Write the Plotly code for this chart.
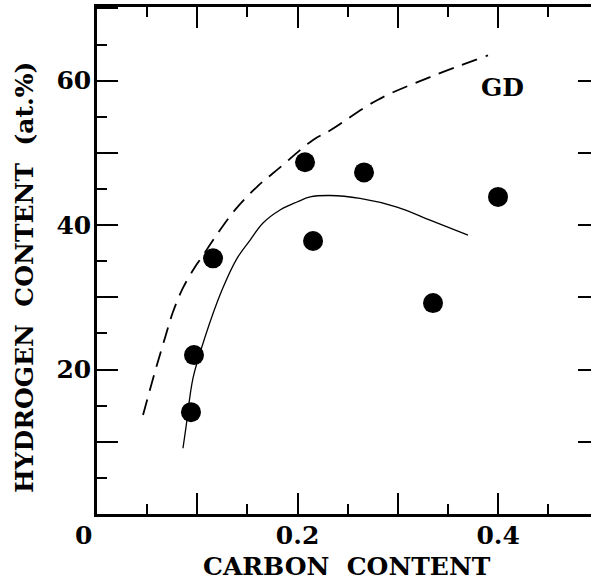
import plotly.graph_objects as go

# Measured film compositions (filled circles)
carbon_pts = [0.0937, 0.0967, 0.1157, 0.2074, 0.2154, 0.2662, 0.3350, 0.3998]
hydrogen_pts = [14.1, 22.0, 35.4, 48.7, 37.8, 47.3, 29.2, 43.9]

# Solid guide curve
solid_x = [0.0857, 0.0887, 0.0957, 0.1077, 0.1246, 0.1396, 0.1525, 0.1655,
           0.1825, 0.1994, 0.2124, 0.2323, 0.2622, 0.2991, 0.3320, 0.3699]
solid_y = [9.1, 12.0, 18.8, 24.5, 31.0, 35.4, 37.9, 40.3,
           42.1, 43.2, 43.9, 44.1, 43.7, 42.5, 40.7, 38.6]

# Dashed curve (GD)
dash_x = [0.0459, 0.0578, 0.0678, 0.0758, 0.0857, 0.0977, 0.1047, 0.1176,
          0.1376, 0.1595, 0.1825, 0.2154, 0.2323, 0.2792, 0.3320, 0.3898]
dash_y = [13.7, 19.7, 24.4, 28.0, 31.3, 34.2, 35.6, 38.3,
          42.1, 45.3, 48.0, 51.8, 53.1, 57.3, 60.5, 63.5]

x_major = [0.0, 0.1, 0.2, 0.3, 0.4]
x_major_text = ["", "", "0.2", "", "0.4"]
x_minor = [0.05, 0.15, 0.25, 0.35, 0.45]
y_major = [0, 10, 20, 30, 40, 50, 60, 70]
y_major_text = ["", "", "20", "", "40", "", "60", ""]
y_minor = [5, 15, 25, 35, 45, 55, 65]
y_right = [10, 20, 30, 40, 50, 60]

X_RANGE = [0, 0.4925]
Y_RANGE = [0, 70.2]

FONT = dict(family="DejaVu Serif", size=25, color="black", weight="bold")
INK = "black"

fig = go.Figure()

fig.add_trace(go.Scatter(
    x=dash_x, y=dash_y, mode="lines", line_shape="spline",
    line=dict(color=INK, width=1.8, dash="16px,9px", smoothing=1.0),
    showlegend=False, hoverinfo="skip"))

fig.add_trace(go.Scatter(
    x=solid_x, y=solid_y, mode="lines", line_shape="spline",
    line=dict(color=INK, width=1.3, smoothing=1.0),
    showlegend=False, hoverinfo="skip"))

fig.add_trace(go.Scatter(
    x=carbon_pts, y=hydrogen_pts, mode="markers",
    marker=dict(color=INK, size=20, line=dict(width=0)), showlegend=False))

# empty trace so the right-hand tick axis is drawn
fig.add_trace(go.Scatter(x=[None], y=[None], yaxis="y2", showlegend=False,
                         hoverinfo="skip"))

fig.add_annotation(text="GD", x=0.4038, y=59.0, xref="x", yref="y",
                   showarrow=False, font=FONT,
                   xanchor="center", yanchor="middle")

fig.add_annotation(text="0", x=0, y=0, xref="x", yref="y", xshift=-14,
                   yshift=-21, showarrow=False, font=FONT,
                   xanchor="center", yanchor="middle")

fig.add_annotation(text="CARBON\u00a0 CONTENT", x=0.506, y=-0.1045,
                   xref="paper", yref="paper", showarrow=False, font=FONT,
                   xanchor="center", yanchor="middle")

fig.add_annotation(text="HYDROGEN\u00a0 CONTENT\u00a0 (at.%)", x=-0.1457,
                   y=0.4655, xref="paper", yref="paper", showarrow=False,
                   textangle=-90, font=FONT,
                   xanchor="center", yanchor="middle")

fig.update_layout(
    width=591, height=583,
    margin=dict(l=97, r=0, t=7, b=69),
    paper_bgcolor="white", plot_bgcolor="white",
    font=FONT,
    xaxis=dict(
        range=X_RANGE, showgrid=False, zeroline=False,
        showline=True, linecolor=INK, linewidth=2.5, mirror="ticks",
        ticks="inside", ticklen=21, tickwidth=2, tickcolor=INK,
        tickvals=x_major, ticktext=x_major_text,
        ticklabelstandoff=-3,
        minor=dict(ticks="inside", ticklen=10, tickwidth=2, tickcolor=INK,
                   tickvals=x_minor, showgrid=False),
    ),
    yaxis=dict(
        range=Y_RANGE, showgrid=False, zeroline=False,
        showline=True, linecolor=INK, linewidth=2.5, mirror=False,
        ticks="inside", ticklen=21, tickwidth=2, tickcolor=INK,
        tickvals=y_major, ticktext=y_major_text,
        ticklabelstandoff=-2,
        minor=dict(ticks="inside", ticklen=10, tickwidth=2, tickcolor=INK,
                   tickvals=y_minor, showgrid=False),
    ),
    yaxis2=dict(
        range=Y_RANGE, overlaying="y", side="right", showgrid=False,
        zeroline=False, showline=False, ticks="inside", ticklen=13,
        tickwidth=2, tickcolor=INK, tickvals=y_right, showticklabels=False,
    ),
)

fig.write_html("out.html")
